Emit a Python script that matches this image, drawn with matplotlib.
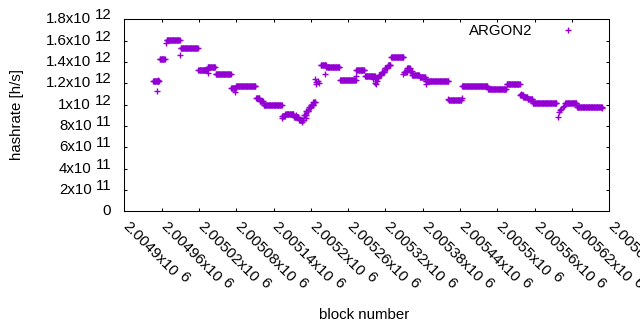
import numpy as np
import matplotlib
matplotlib.use('Agg')
import matplotlib.pyplot as plt
from matplotlib.font_manager import FontProperties

plt.rcParams['font.family'] = 'Liberation Sans'

# block numbers are offsets from this one
BASE_BLOCK = 2004900

# plateaus: first block, last block, hashrate (x10^12)
seg_first = [46, 57, 68, 91, 119, 134, 147, 172, 180, 212, 218, 224,
             254, 259, 273, 281, 289, 293, 297, 301, 305,
             316, 325, 347, 373, 387, 404, 409, 414, 419, 424, 429,
             450, 455, 460, 463, 475, 485, 522, 543, 585, 615, 637, 643,
             649, 657, 709, 728]
seg_last = [56, 65, 89, 118, 133, 146, 171, 179, 211, 217, 223, 253,
            258, 272, 280, 288, 292, 296, 300, 304, 307,
            324, 346, 372, 386, 403, 408, 413, 418, 423, 428, 449,
            454, 459, 462, 474, 484, 521, 542, 584, 614, 636, 642, 648,
            656, 695, 727, 768]
seg_rate = [1.222, 1.427, 1.606, 1.531, 1.324, 1.352, 1.286, 1.155, 1.174, 1.061, 1.03, 0.998,
            0.89, 0.915, 0.88, 0.86, 0.90, 0.94, 0.975, 1.0, 1.025,
            1.37, 1.355, 1.233, 1.324, 1.270, 1.25, 1.28, 1.31, 1.34, 1.375, 1.446,
            1.31, 1.345, 1.32, 1.277, 1.258, 1.2235, 1.045, 1.179, 1.146, 1.193, 1.09, 1.075,
            1.05, 1.017, 1.02, 0.982]

# stray points off the plateaus
odd_block = [52, 55, 67, 90, 134, 178, 253, 276, 286, 293, 303, 306, 308, 309, 311, 313,
             323, 372, 400, 403, 405, 407, 449, 485, 521, 543, 638, 641,
             697, 699, 701, 703, 705, 707, 769]
odd_rate = [1.127, 1.235, 1.577, 1.465, 1.30, 1.12, 0.875, 0.905, 0.84, 0.876, 1.029, 1.24, 1.21, 1.19, 1.225, 1.20,
            1.289, 1.27, 1.24, 1.202, 1.193, 1.217, 1.289, 1.193, 1.055, 1.06, 1.10, 1.07,
            0.888, 0.93, 0.95, 0.96, 0.975, 0.99, 0.967]

x_ticks = np.arange(2004900, 2005681, 60)
x_tick_base = ['2.0049x10', '2.00496x10', '2.00502x10', '2.00508x10', '2.00514x10',
               '2.0052x10', '2.00526x10', '2.00532x10', '2.00538x10', '2.00544x10',
               '2.0055x10', '2.00556x10', '2.00562x10', '2.00568x10']
x_tick_exp = '6'
y_ticks = np.arange(0, 1.81e12, 0.2e12)
y_tick_base = ['0', '2x10', '4x10', '6x10', '8x10', '1x10', '1.2x10', '1.4x10', '1.6x10', '1.8x10']
y_tick_exp = ['', '11', '11', '11', '11', '12', '12', '12', '12', '12']

blocks = np.concatenate([np.arange(a, b + 1) for a, b in zip(seg_first, seg_last)]
                        + [np.array(odd_block)]) + BASE_BLOCK
rates = np.concatenate([np.full(b - a + 1, r) for a, b, r in zip(seg_first, seg_last, seg_rate)]
                       + [np.array(odd_rate)]) * 1e12

fig = plt.figure(figsize=(6.4, 3.3), dpi=100)
ax = fig.add_axes([0.1942, 0.3597, 0.7578, 0.5818])

ax.plot(blocks, rates, linestyle='none', marker='+', ms=4.8, mew=1.0,
        color='#9400d3', label='ARGON2')
ax.set_xlim(2004900, 2005680)
ax.set_ylim(0, 1.8e12)
ax.set_xticks(x_ticks)
ax.set_yticks(y_ticks)
ax.tick_params(direction='in', top=True, right=True, length=2.5, width=0.75,
               labelbottom=False, labelleft=False)
for s in ax.spines.values():
    s.set_linewidth(0.75)

fs = 10.8
fp = FontProperties(family='Liberation Sans', size=fs)
renderer = fig.canvas.get_renderer()


def text_w(s):
    return renderer.get_text_width_height_descent(s, fp, ismath=False)[0]


# y tick labels with raised exponent (gnuplot style)
for v, b, e in zip(y_ticks, y_tick_base, y_tick_exp):
    kw = dict(xy=(0, v), xycoords=('axes fraction', 'data'), textcoords='offset pixels',
              ha='right', va='center', fontsize=fs, annotation_clip=False)
    if e:
        we = text_w(e)
        ax.annotate(e, xytext=(-12.6, 4), **kw)
        ax.annotate(b, xytext=(-12.6 - we - 4.3, 0), **kw)
    else:
        ax.annotate(b, xytext=(-13.5, 0), **kw)

# x tick labels rotated -45
d = np.array([np.cos(np.radians(-45)), np.sin(np.radians(-45))])
up = np.array([-d[1], d[0]])
p0 = np.array([1.0, -13.0])
for t, b in zip(x_ticks, x_tick_base):
    kw = dict(xy=(t, 0), xycoords=('data', 'axes fraction'), textcoords='offset pixels',
              rotation=-45, rotation_mode='anchor', ha='left', va='center',
              fontsize=fs, annotation_clip=False)
    wb = text_w(b)
    ax.annotate(b, xytext=tuple(p0), **kw)
    pe = p0 + (wb + 4.3) * d + 4 * up
    ax.annotate(x_tick_exp, xytext=tuple(pe), **kw)

fig.text(364.5 / 640, 1 - 315 / 330, 'block number', ha='center', va='center', fontsize=fs)
fig.text(17 / 640, 1 - 115 / 330, 'hashrate [h/s]', ha='center', va='center',
         rotation=90, fontsize=fs)

ax.legend(loc='upper right', bbox_to_anchor=(0.945, 0.975), frameon=False, markerfirst=False,
          handlelength=2, handletextpad=1.33, borderpad=0, borderaxespad=0, fontsize=fs)

fig.savefig('out.png', dpi=100, facecolor='white')
